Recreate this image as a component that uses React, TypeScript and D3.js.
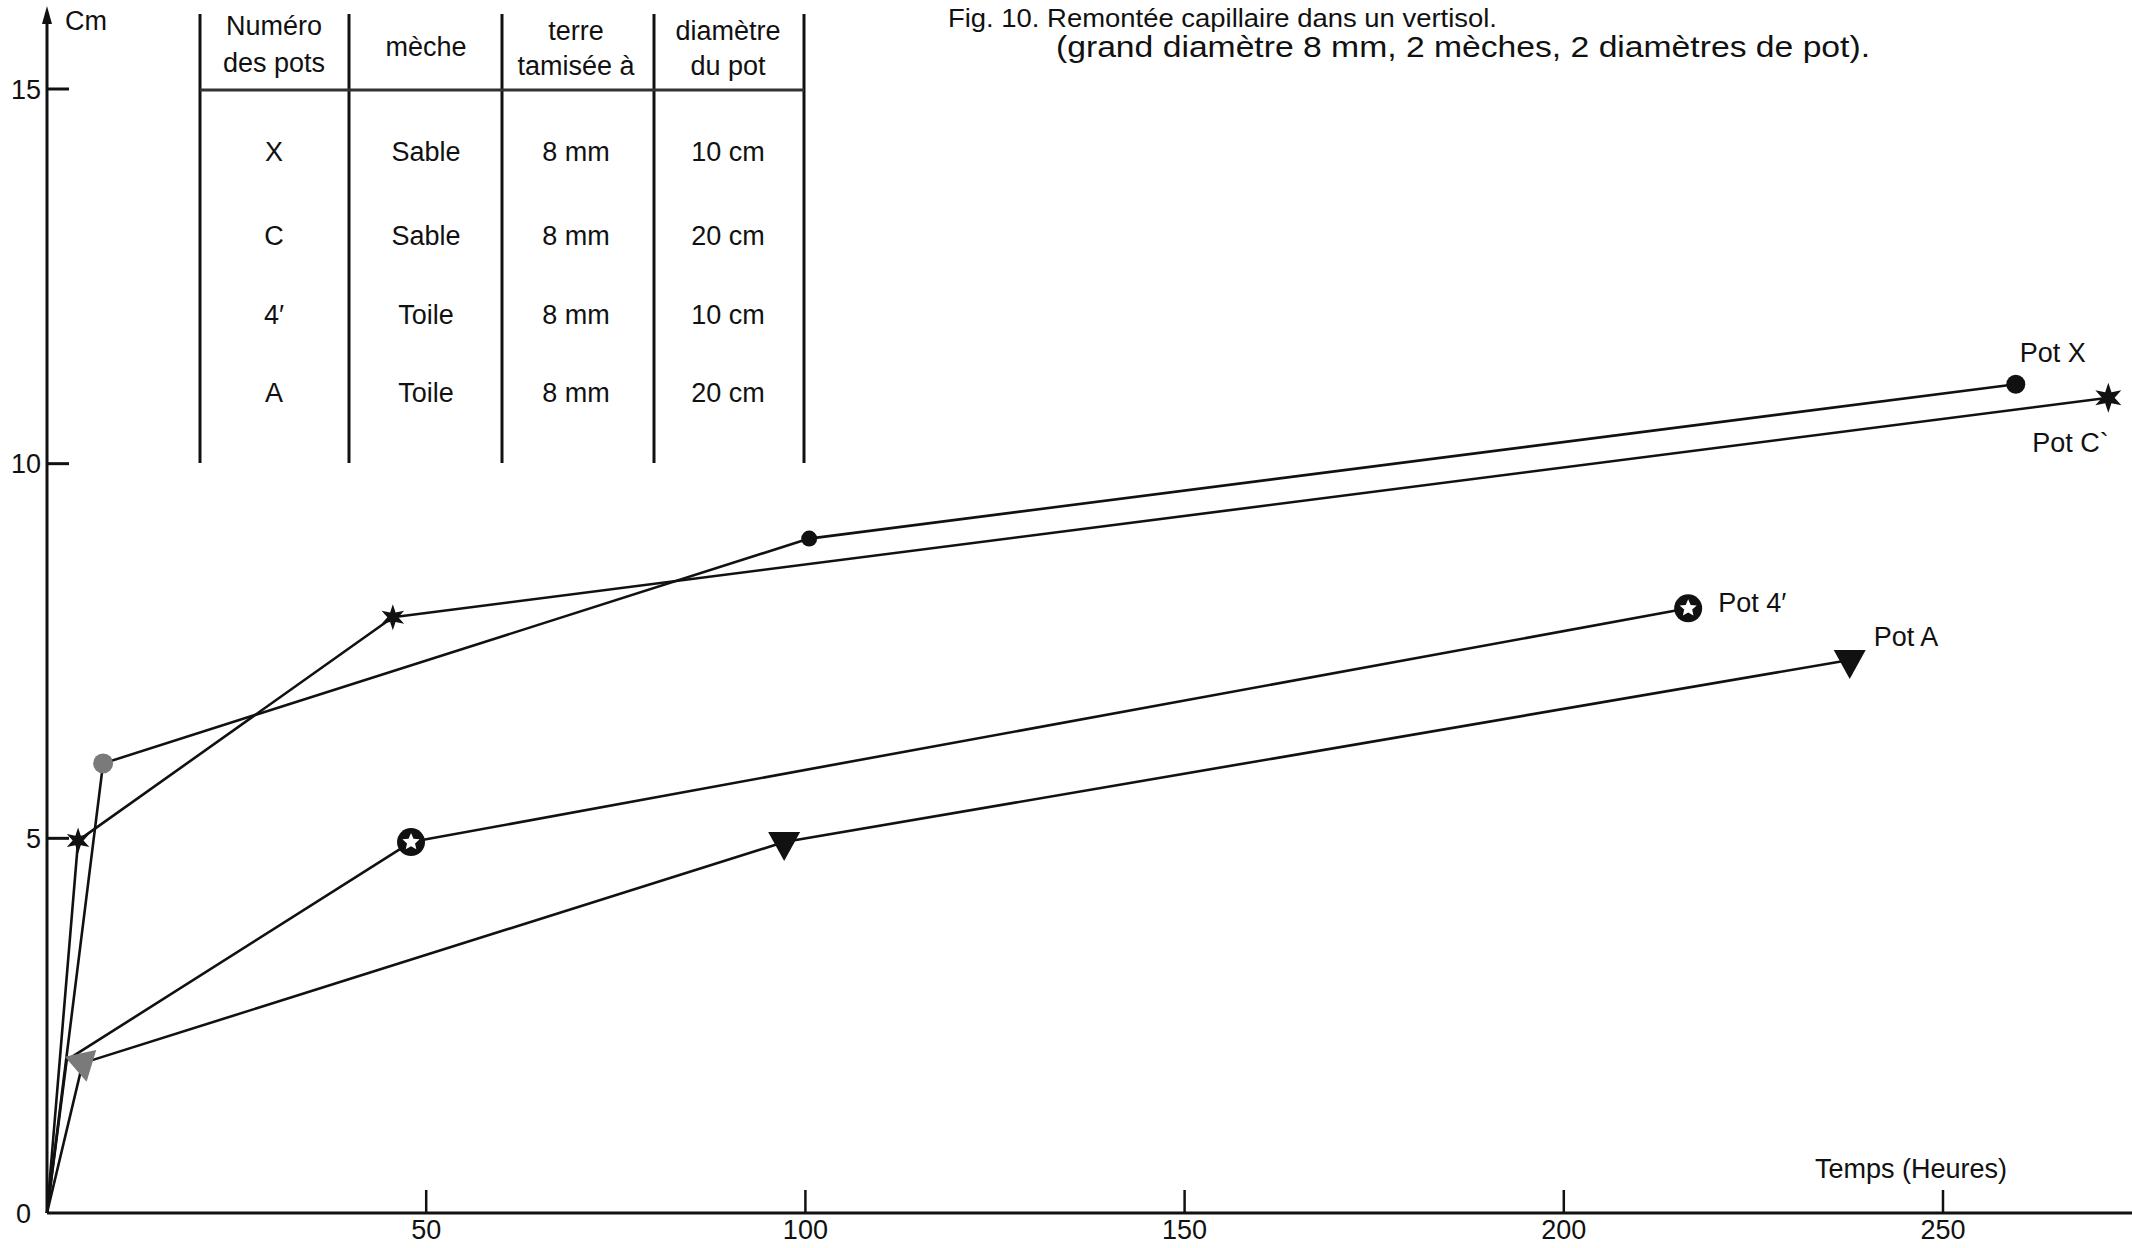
import React from "react";
import * as d3 from "d3";

// ---- Data ----
const hoursX = [0, 7.4, 100.5, 259.6];
const cmX = [0, 6.0, 9.0, 11.06];
const hoursC = [0, 4.1, 45.6, 271.8];
const cmC = [0, 4.97, 7.95, 10.88];
const hours4 = [0, 2.6, 48.0, 216.4];
const cm4 = [0, 2.04, 4.95, 8.07];
const hoursA = [0, 4.7, 97.2, 237.7];
const cmA = [0, 2.0, 4.95, 7.38];

const xTicks = [50, 100, 150, 200, 250];
const yTicks = [0, 5, 10, 15];

const tableHeaders = [["Numéro", "des pots"], ["mèche"], ["terre", "tamisée à"], ["diamètre", "du pot"]];
const potIds = ["X", "C", "4′", "A"];
const meches = ["Sable", "Sable", "Toile", "Toile"];
const terres = ["8 mm", "8 mm", "8 mm", "8 mm"];
const diametres = ["10 cm", "20 cm", "10 cm", "20 cm"];

const seriesNames = ["Pot X", "Pot C`", "Pot 4′", "Pot A"];
const seriesKinds = ["dot", "star6", "starCircle", "triangle"];

const titleLine1 = "Fig. 10. Remontée capillaire dans un vertisol.";
const titleLine2 = "(grand diamètre 8 mm, 2 mèches, 2 diamètres de pot).";
const xAxisTitle = "Temps (Heures)";
const yAxisTitle = "Cm";

const FONT = "'Liberation Sans', Arial, Helvetica, sans-serif";

function starPath(points: number, outer: number, inner: number, rot = -Math.PI / 2) {
  const pts: [number, number][] = d3.range(points * 2).map((i) => {
    const r = i % 2 === 0 ? outer : inner;
    const a = rot + (i * Math.PI) / points;
    return [r * Math.cos(a), r * Math.sin(a)];
  });
  return "M" + pts.map((p) => p.join(",")).join("L") + "Z";
}

function Marker({ kind, x, y, faded, big }: { kind: string; x: number; y: number; faded: boolean; big: boolean }) {
  const fill = faded ? "#7a7a7a" : "#111";
  if (kind === "dot") {
    return <circle cx={x} cy={y} r={faded ? 10 : big ? 9.5 : 8} fill={fill} />;
  }
  if (kind === "star6") {
    const s = big ? 15 : 13;
    return <path d={starPath(6, s, s * 0.42)} transform={`translate(${x},${y})`} fill={fill} />;
  }
  if (kind === "starCircle") {
    if (faded) return null;
    return (
      <g transform={`translate(${x},${y})`}>
        <circle r={14} fill="#111" />
        <path d={starPath(5, 9, 4.2)} fill="#fff" />
      </g>
    );
  }
  // triangle pointing down
  const tri = "M-16,-10L16,-10L0,19Z";
  return <path d={tri} transform={`translate(${x},${y})${faded ? " rotate(-12)" : ""}`} fill={fill} />;
}

export default function App() {
  const W = 2132;
  const H = 1248;
  const x = d3.scaleLinear().domain([0, 250]).range([47, 1943]);
  const y = d3.scaleLinear().domain([0, 15]).range([1213, 89]);

  const series = [
    { hours: hoursX, cm: cmX },
    { hours: hoursC, cm: cmC },
    { hours: hours4, cm: cm4 },
    { hours: hoursA, cm: cmA },
  ];

  const line = d3
    .line<[number, number]>()
    .x((d) => x(d[0]))
    .y((d) => y(d[1]));

  const colX = [200, 349, 502, 654, 804];
  const colCenters = [274, 426, 576, 728];
  const rowY = [151, 235, 314, 392];

  const labelPos = [
    { dx: 4, dy: -22, anchor: "start" },
    { dx: -76, dy: 54, anchor: "start" },
    { dx: 30, dy: 4, anchor: "start" },
    { dx: 24, dy: -14, anchor: "start" },
  ];

  return (
    <svg
      width={W}
      height={H}
      viewBox={`0 0 ${W} ${H}`}
      style={{ position: "fixed", left: 0, top: 0, background: "#fff" }}
      fontFamily={FONT}
    >
      <rect x={0} y={0} width={W} height={H} fill="#fff" />

      {/* Title */}
      <text x={948} y={27} fontSize={25} fill="#111" textLength={549} lengthAdjust="spacingAndGlyphs">
        {titleLine1}
      </text>
      <text x={1056} y={57} fontSize={29} fill="#111" textLength={814} lengthAdjust="spacingAndGlyphs">
        {titleLine2}
      </text>

      {/* Table */}
      <g stroke="#111" strokeWidth={3}>
        {colX.map((cx, i) => (
          <line key={i} x1={cx} x2={cx} y1={14} y2={463} />
        ))}
        <line x1={colX[0]} x2={colX[4]} y1={90} y2={90} stroke="#333" />
      </g>
      <g fontSize={27} fill="#111" textAnchor="middle">
        {tableHeaders.map((lines, i) =>
          lines.length === 2 ? (
            <g key={i}>
              <text x={colCenters[i]} y={i === 0 ? 35 : 40}>{lines[0]}</text>
              <text x={colCenters[i]} y={i === 0 ? 72 : 75}>{lines[1]}</text>
            </g>
          ) : (
            <text key={i} x={colCenters[i]} y={56}>{lines[0]}</text>
          )
        )}
        {potIds.map((p, r) => (
          <g key={r}>
            <text x={colCenters[0]} y={rowY[r]} dy="0.36em">{p}</text>
            <text x={colCenters[1]} y={rowY[r]} dy="0.36em">{meches[r]}</text>
            <text x={colCenters[2]} y={rowY[r]} dy="0.36em">{terres[r]}</text>
            <text x={colCenters[3]} y={rowY[r]} dy="0.36em">{diametres[r]}</text>
          </g>
        ))}
      </g>

      {/* Axes */}
      <g stroke="#111" strokeWidth={3}>
        <line x1={x(0)} x2={W} y1={y(0)} y2={y(0)} />
        <line x1={x(0)} x2={x(0)} y1={y(0)} y2={16} />
        {xTicks.map((t) => (
          <line key={t} x1={x(t)} x2={x(t)} y1={y(0)} y2={y(0) - 23} strokeWidth={2.5} />
        ))}
        {yTicks
          .filter((t) => t > 0)
          .map((t) => (
            <line key={t} x1={x(0)} x2={x(0) + 22} y1={y(t)} y2={y(t)} />
          ))}
      </g>
      <path d={`M${x(0)},6L${x(0) - 5},24L${x(0) + 5},24Z`} fill="#111" />
      <text x={65} y={30} fontSize={27} fill="#111">{yAxisTitle}</text>
      <g fontSize={27} fill="#111">
        {yTicks.map((t) => (
          <text key={t} x={t === 0 ? 31 : 41} y={y(t)} dy="0.36em" textAnchor="end">
            {t}
          </text>
        ))}
        {xTicks.map((t) => (
          <text key={t} x={x(t)} y={1239} textAnchor="middle">
            {t}
          </text>
        ))}
      </g>
      <text x={1815} y={1178} fontSize={27} fill="#111">{xAxisTitle}</text>

      {/* Series */}
      {series.map((s, si) => {
        const pts: [number, number][] = s.hours.map((h, i) => [h, s.cm[i]]);
        return (
          <g key={si}>
            <path d={line(pts) || ""} fill="none" stroke="#111" strokeWidth={2.6} strokeLinejoin="round" />
            {pts.map((p, i) =>
              i === 0 ? null : (
                <Marker
                  key={i}
                  kind={seriesKinds[si]}
                  x={x(p[0])}
                  y={y(p[1])}
                  faded={i === 1 && si !== 1}
                  big={i === pts.length - 1}
                />
              )
            )}
          </g>
        );
      })}

      {/* Series labels */}
      <g fontSize={27} fill="#111">
        {series.map((s, si) => {
          const last = s.hours.length - 1;
          const px = x(s.hours[last]);
          const py = y(s.cm[last]);
          const lp = labelPos[si];
          return (
            <text key={si} x={px + lp.dx} y={py + lp.dy} textAnchor={lp.anchor}>
              {seriesNames[si]}
            </text>
          );
        })}
      </g>
    </svg>
  );
}
